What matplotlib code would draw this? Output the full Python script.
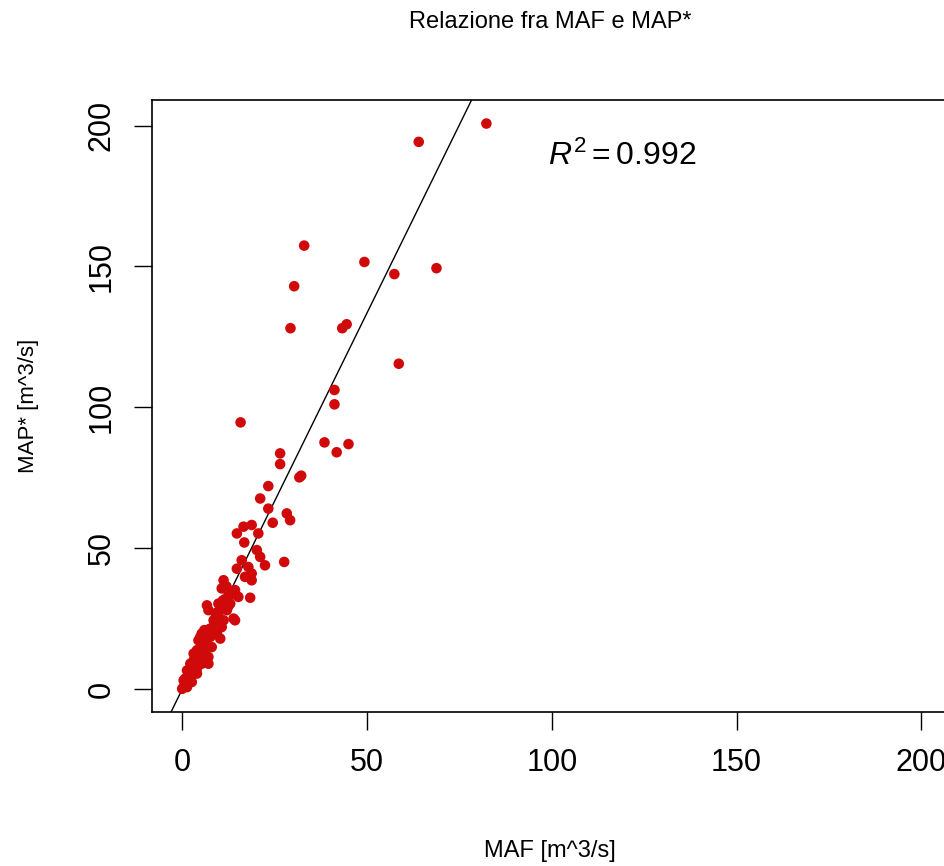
import matplotlib
matplotlib.use("Agg")
import matplotlib.pyplot as plt
import numpy as np

# MAF vs MAP* values (m^3/s)
maf = [82.3, 64.0, 33.0, 49.3, 57.4, 68.8, 30.3, 29.3, 43.3, 44.5, 58.6, 41.2, 41.2,
       15.8, 38.5, 41.8, 45.0, 26.5, 26.5, 31.7, 32.2, 23.3, 21.1, 23.3, 28.3, 29.2,
       24.5, 18.8, 16.6, 14.8, 20.6, 16.8, 20.2, 21.1, 22.4, 27.6, 16.1, 14.8, 17.9,
       18.8, 17.0, 18.8, 11.2, 10.7, 14.3, 13.0, 18.4, 12.5, 15.2, 13.0, 6.7, 7.1,
       12.1, 14.3, 11.2, 9.4, 13.9, 8.5, 10.7, 5.3, 9.4, 7.6, 4.9, 10.3, 4.4, 5.8,
       8.0, 6.7, 4.0, 3.1, 6.2, 7.1, 3.1, 5.3, 7.1, 2.2, 4.0, 2.2, 1.3, 4.0, 2.6,
       0.8, 2.6, 0.4, 0.8, 0.0, 1.3, 9.8, 11.6, 12.0, 9.0, 6.0, 8.0, 3.5, 5.5, 1.8,
       3.0, 10.0, 12.5,
       1.0, 1.5, 2.0, 2.5, 3.0, 3.5, 4.5, 5.0, 5.5, 6.5, 7.0, 7.5, 8.5, 9.0, 10.5,
       11.0, 1.8, 0.5]
map_star = [200.7, 194.2, 157.4, 151.6, 147.3, 149.4, 143.0, 128.1, 128.1, 129.5, 115.5,
            106.2, 101.1, 94.7, 87.6, 84.1, 87.0, 83.7, 79.9, 75.2, 75.8, 72.1, 67.7,
            64.1, 62.4, 60.0, 59.1, 58.3, 57.7, 55.3, 55.3, 52.1, 49.4, 47.0, 44.0,
            45.2, 45.8, 42.8, 43.4, 41.1, 39.9, 38.7, 38.7, 35.8, 35.2, 33.4, 32.5,
            34.6, 32.8, 30.4, 29.8, 28.1, 28.1, 24.5, 24.5, 26.9, 25.1, 22.1, 22.1,
            19.8, 19.8, 18.6, 18.6, 18.0, 17.4, 16.2, 15.0, 15.0, 13.9, 12.7, 11.5,
            11.5, 10.3, 9.1, 9.1, 9.1, 7.4, 6.7, 6.7, 5.6, 5.0, 3.8, 2.6, 3.2, 1.4,
            0.2, 0.8, 30.4, 32.0, 36.5, 24.0, 21.0, 20.5, 8.0, 13.0, 4.5, 6.0, 27.5,
            29.5,
            2.0, 3.5, 4.0, 7.5, 9.0, 10.5, 12.0, 14.5, 16.5, 18.0, 20.0, 21.5, 24.5,
            27.0, 29.0, 31.5, 6.0, 1.0]
slope = 2.67          # fitted line through the origin
r2_label = r"$R^2 = 0.992$"
ticks = [0, 50, 100, 150, 200]

plt.rcParams['font.family'] = ['Liberation Sans', 'DejaVu Sans']
plt.rcParams['mathtext.fontset'] = 'custom'
plt.rcParams['mathtext.rm'] = 'Liberation Sans'
plt.rcParams['mathtext.it'] = 'Liberation Sans:italic'

fig = plt.figure(figsize=(9.44, 8.66), dpi=100)
ax = fig.add_axes([0.1615, 0.1778, 0.850, 0.7067])

ax.scatter(maf, map_star, s=58, color='#D00A0A', edgecolors='none', zorder=3)
xx = np.array([-20, 220])
ax.plot(xx, slope * xx, color='black', lw=1, zorder=2)
ax.text(98.9, 189.0, r2_label, fontsize=23, va='center', ha='left')

ax.set_xlim(-8.04, 209.04)
ax.set_ylim(-8.04, 209.04)
ax.set_xticks(ticks)
ax.set_yticks(ticks)
ax.set_yticklabels([str(t) for t in ticks], rotation=90, va='center')
ax.tick_params(direction='out', length=13, width=1, labelsize=22, pad=13)
for sp in ax.spines.values():
    sp.set_linewidth(1.2)

fig.text(0.583, 0.975, "Relazione fra MAF e MAP*", ha='center', va='center', fontsize=17)
fig.text(0.583, 0.017, "MAF [m^3/s]", ha='center', va='center', fontsize=17)
fig.text(0.030, 0.531, "MAP* [m^3/s]", ha='center', va='center', fontsize=16, rotation=90)

fig.savefig("out.png", dpi=100)
